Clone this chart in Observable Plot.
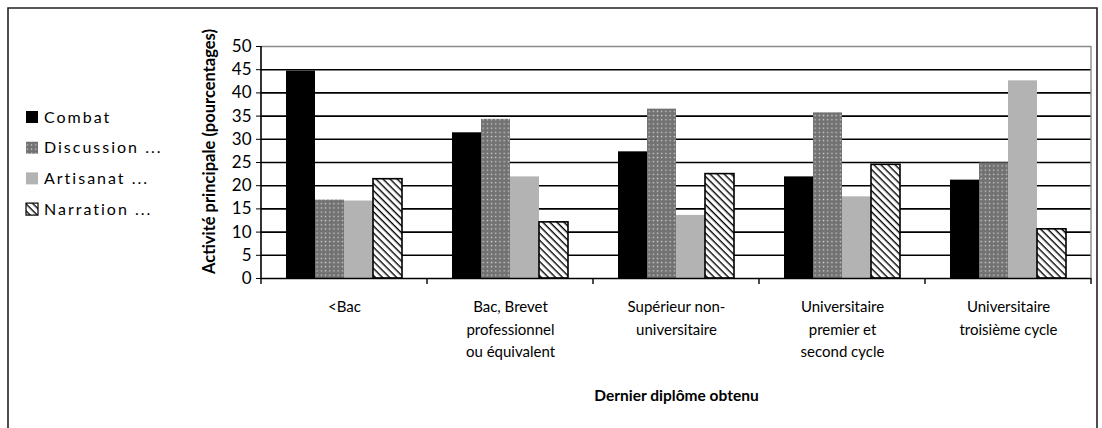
<!DOCTYPE html>
<html>
<head>
<meta charset="utf-8">
<script src="https://cdn.jsdelivr.net/npm/d3@7"></script>
<script src="https://cdn.jsdelivr.net/npm/@observablehq/plot@0.6"></script>
<style>
  body { margin: 0; background: #fff; }
  #chart { width: 1102px; height: 428px; overflow: hidden; }
</style>
</head>
<body>
<div id="chart"></div>
<script>
// ---- data ----
const categories = [
  "<Bac",
  "Bac, Brevet\nprofessionnel\nou équivalent",
  "Supérieur non-\nuniversitaire",
  "Universitaire\npremier et\nsecond cycle",
  "Universitaire\ntroisième cycle"
];
const series = ["Combat", "Discussion ...", "Artisanat ...", "Narration ..."];
const combat     = [44.7, 31.4, 27.3, 21.9, 21.2];
const discussion = [16.9, 34.3, 36.5, 35.7, 24.9];
const artisanat  = [16.7, 21.9, 13.6, 17.6, 42.6];
const narration  = [21.4, 12.1, 22.5, 24.5, 10.6];
const yTicks = [0, 5, 10, 15, 20, 25, 30, 35, 40, 45, 50];
const yLabel = "Activité principale (pourcentages)";
const xLabel = "Dernier diplôme obtenu";
const fills = ["#000000", "url(#pDots)", "#b3b3b3", "url(#pHatch)"];

const values = [combat, discussion, artisanat, narration];
const data = categories.flatMap((c, i) => values.map((arr, j) => ({cat: c, s: series[j], v: arr[i]})));

const FONT = "Lato, 'Open Sans', sans-serif";

const plot = Plot.plot({
  width: 1102,
  height: 428,
  marginLeft: 261,
  marginRight: 11,
  marginTop: 46,
  marginBottom: 150,
  style: {fontFamily: FONT, fontSize: "15px", color: "#000", background: "#fff", overflow: "visible"},
  fx: {domain: categories, padding: 0},
  x: {domain: series, paddingInner: 0, paddingOuter: 0.79, axis: null},
  y: {domain: [0, 50], ticks: yTicks},
  color: {domain: series, range: fills},
  marks: [
    Plot.ruleY(yTicks.filter(t => t > 0 && t < 50), {stroke: "#000", strokeWidth: 1.6}),
    Plot.ruleY([50], {stroke: "#8a8a8a", strokeWidth: 1.6}),
    Plot.barY(data, {fx: "cat", x: "s", y: "v", fill: "s"}),
    Plot.barY(data.filter(d => d.s === "Narration ..."), {fx: "cat", x: "s", y: "v", fill: "none", stroke: "#000", strokeWidth: 1.6}),
    Plot.ruleY([0], {stroke: "#000", strokeWidth: 1.6}),
    Plot.axisY({ticks: yTicks, tickSize: 5, tickPadding: 5, fontSize: 17, stroke: "#000",
      label: yLabel, labelAnchor: "center", labelOffset: 58}),
    Plot.axisFx({anchor: "bottom", tickSize: 0, tickPadding: 18, lineHeight: 1.5, fontSize: 15,
      label: xLabel, labelAnchor: "center", labelOffset: 122})
  ]
});

document.getElementById("chart").appendChild(plot);

// ---- post-processing with library scales ----
const svg = d3.select(plot);
const defs = svg.insert("defs", ":first-child");
const dots = defs.append("pattern").attr("id", "pDots").attr("patternUnits", "userSpaceOnUse")
  .attr("width", 4.2).attr("height", 4.2);
dots.append("rect").attr("width", 4.2).attr("height", 4.2).attr("fill", "#727272");
dots.append("rect").attr("x", 1.5).attr("y", 1.5).attr("width", 1.3).attr("height", 1.3).attr("fill", "#d6d6d6");
const hatch = defs.append("pattern").attr("id", "pHatch").attr("patternUnits", "userSpaceOnUse")
  .attr("width", 5).attr("height", 5).attr("patternTransform", "rotate(45)");
hatch.append("rect").attr("width", 5).attr("height", 5).attr("fill", "#fff");
hatch.append("rect").attr("y", 0).attr("width", 5).attr("height", 1.4).attr("fill", "#000");

// axis labels styling
const yl = svg.select('g[aria-label="y-axis label"]');
yl.attr("font-weight", "bold").attr("font-size", 16.5);
yl.selectAll("text").text(yLabel);
const ylt = yl.attr("transform") || "";
yl.attr("transform", "translate(0,-11) " + ylt);
const xl = svg.select('g[aria-label="fx-axis label"]');
xl.attr("font-weight", "bold").attr("font-size", 15.5);
xl.selectAll("text").text(xLabel);

const fx = plot.scale("fx");
const y = plot.scale("y");
const y0 = y.apply(0), y50 = y.apply(50);
const bounds = categories.map(c => fx.apply(c));
bounds.push(fx.apply(categories[categories.length - 1]) + fx.bandwidth);
const xL = bounds[0], xR = bounds[bounds.length - 1];
const ov = svg.append("g");
ov.append("line").attr("x1", xL).attr("x2", xL).attr("y1", y50).attr("y2", y0).attr("stroke", "#000").attr("stroke-width", 1.6);
ov.append("line").attr("x1", xR).attr("x2", xR).attr("y1", y50).attr("y2", y0).attr("stroke", "#8a8a8a").attr("stroke-width", 1.4);
ov.selectAll("line.tk").data(bounds).join("line").attr("class", "tk")
  .attr("x1", d => d).attr("x2", d => d).attr("y1", y0).attr("y2", y0 + 6)
  .attr("stroke", "#000").attr("stroke-width", 1.4);

// outer frame
ov.append("path").attr("d", "M8,440V8H1097V440").attr("fill", "none").attr("stroke", "#222").attr("stroke-width", 1.6);

// legend
const lg = svg.append("g").attr("font-family", FONT).attr("font-size", 16).attr("letter-spacing", 2)
  .attr("text-anchor", "start");
series.forEach((s, i) => {
  const cy = 117 + i * 30.7;
  lg.append("rect").attr("x", 26).attr("y", cy - 6).attr("width", 12).attr("height", 12)
    .attr("fill", fills[i]).attr("stroke", i === 3 ? "#000" : "none").attr("stroke-width", 1.2);
  lg.append("text").attr("x", 44).attr("y", cy).attr("dy", "0.35em").attr("text-anchor", "start").text(s);
});
</script>
</body>
</html>
